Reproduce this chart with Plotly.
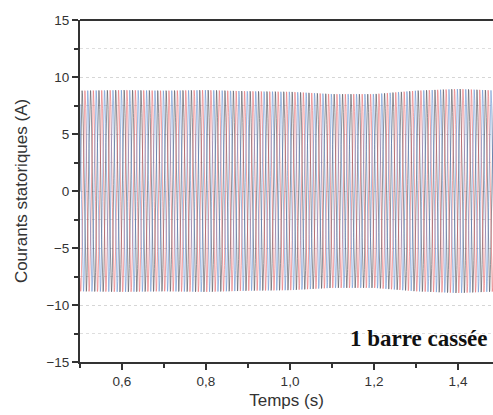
import numpy as np
import plotly.graph_objects as go

# Envelope of the stator currents (A)
env_time = [0.50, 0.60, 0.70, 0.80, 0.90, 1.00, 1.10, 1.20, 1.30, 1.40, 1.50]
env_amp = [8.8, 8.85, 8.8, 8.85, 8.75, 8.7, 8.5, 8.5, 8.8, 8.95, 8.8]
supply_freq_hz = 50.0
phase_names = ["Ia", "Ib", "Ic"]
phase_shift_deg = [0, -120, 120]
phase_colors = ["#1f1f2a", "#e0474c", "#3f76c4"]

x_tick_vals = [0.6, 0.8, 1.0, 1.2, 1.4]
x_tick_text = ["0,6", "0,8", "1,0", "1,2", "1,4"]
y_tick_vals = [-15, -10, -5, 0, 5, 10, 15]

t = np.arange(0.5, 1.5001, 1 / 5000.0)
amp = np.interp(t, env_time, env_amp)

fig = go.Figure()
for name, sh, col in zip(phase_names, phase_shift_deg, phase_colors):
    y = amp * np.sin(2 * np.pi * supply_freq_hz * t + np.deg2rad(sh))
    fig.add_trace(go.Scatter(x=t, y=y, mode="lines", name=name,
                             line=dict(color=col, width=0.6), opacity=0.8))

fig.add_annotation(xref="paper", yref="y", x=0.993, y=-12.9, xanchor="right",
                   yanchor="middle", text="<b>1 barre cassée</b>", showarrow=False,
                   font=dict(family="Liberation Serif", size=23, color="#111"))

fig.update_layout(
    width=493, height=415,
    margin=dict(l=80, r=0, t=20, b=53),
    paper_bgcolor="white", plot_bgcolor="white",
    showlegend=False,
    font=dict(family="Liberation Sans", size=13.5, color="#333"),
    xaxis=dict(range=[0.5, 1.4833], tickvals=x_tick_vals, ticktext=x_tick_text,
               ticks="outside", ticklen=6, tickwidth=1.5, tickcolor="#333",
               showline=True, linecolor="#333", linewidth=2, mirror=False,
               showgrid=False, zeroline=False,
               minor=dict(dtick=0.1, tick0=0.5, ticks="outside", ticklen=4, tickcolor="#333"),
               title=dict(text="Temps (s)", font=dict(size=17), standoff=6),
               tickfont=dict(size=13.5, color="#333")),
    yaxis=dict(range=[-15, 15], tickvals=y_tick_vals,
               ticks="outside", ticklen=6, tickwidth=1.5, tickcolor="#333",
               showline=True, linecolor="#333", linewidth=2,
               showgrid=True, gridcolor="#d6d6d6", griddash="3px,3px", gridwidth=1,
               zeroline=False,
               minor=dict(dtick=2.5, tick0=0, ticks="outside", ticklen=4, tickcolor="#333",
                          showgrid=True, gridcolor="#dedede", griddash="3px,3px"),
               title=dict(text="Courants statoriques (A)", font=dict(size=17), standoff=14),
               tickfont=dict(size=13.5, color="#333")),
)
# top frame line
fig.add_shape(type="line", xref="paper", yref="paper", x0=0, x1=1, y0=1, y1=1,
              line=dict(color="#333", width=2))

fig.write_html("out.html")
